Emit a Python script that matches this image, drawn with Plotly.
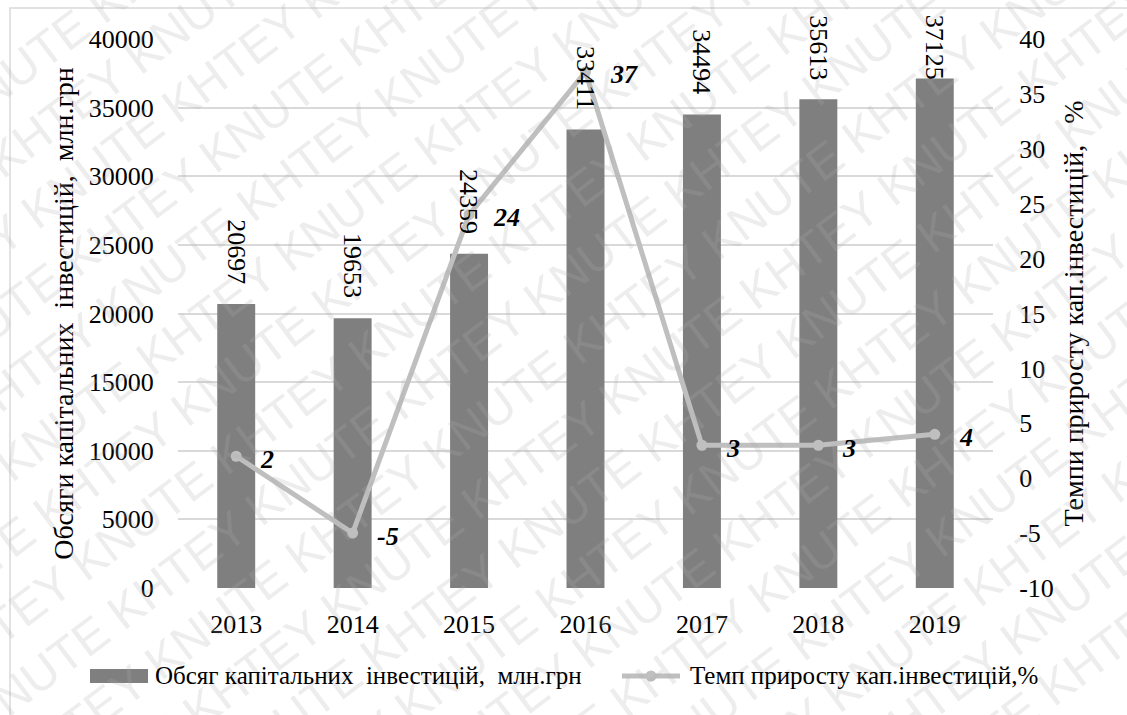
import math
import plotly.graph_objects as go

# ---- data -------------------------------------------------------------
years = ["2013", "2014", "2015", "2016", "2017", "2018", "2019"]
investment = [20697, 19653, 24359, 33411, 34494, 35613, 37125]   # млн.грн
growth = [2, -5, 24, 37, 3, 3, 4]                                # %

left_tick_vals = [0, 5000, 10000, 15000, 20000, 25000, 30000, 35000, 40000]
left_tick_text = ["0", "5000", "10000", "15000", "20000", "25000", "30000", "35000", "40000"]
right_tick_vals = [-10, -5, 0, 5, 10, 15, 20, 25, 30, 35, 40]
right_tick_text = ["-10", "-5", "0", "5", "10", "15", "20", "25", "30", "35", "40"]

bar_name = "Обсяг капітальних\u00a0\u00a0інвестицій,\u00a0\u00a0млн.грн"
line_name = "Темп приросту кап.інвестицій,%"
left_title = "Обсяги капітальних\u00a0\u00a0інвестицій,\u00a0\u00a0млн.грн"
right_title = "Темпи приросту кап.інвестицій,\u00a0\u00a0\u00a0%"

# ---- styling ----------------------------------------------------------
W, H = 1127, 715
L, R, T, B = 178, 993, 39, 588          # plot area in page pixels
BAR = "#7f7f7f"
LINE = "#bfbfbf"
GRID = "#d9d9d9"
SERIF = '"Liberation Serif", "Times New Roman", serif'
SANS = '"Liberation Sans", Arial, sans-serif'
FS = 26          # ticks and data labels
FS_TITLE = 28
FS_LEG = 25

Y_MAX = left_tick_vals[-1]
units_per_px = Y_MAX / (B - T)


def px_x(p):
    return (p - L) / (R - L)


def px_y(p):
    return (B - p) / (B - T)


fig = go.Figure()

fig.add_trace(go.Bar(
    x=years, y=investment, name=bar_name,
    marker=dict(color=BAR, line=dict(width=0)),
    showlegend=False,
))

fig.add_trace(go.Scatter(
    x=years, y=growth, name=line_name, yaxis="y2",
    mode="lines+markers",
    line=dict(color=LINE, width=5),
    marker=dict(color=LINE, size=11),
    showlegend=False,
))

annotations = []

# faint diagonal watermark rows
angle = 37
s = 62
ca, sa = math.cos(math.radians(angle)), math.sin(math.radians(angle))
for k in range(-9, 10):
    cx = W / 2 + k * s * sa
    cy = H / 2 + k * s * ca
    words = "KNUTE KHTEY " if k % 2 == 0 else "KHTEY KNUTE "
    annotations.append(dict(
        text=(words * 7).strip(), xref="paper", yref="paper",
        x=px_x(cx), y=px_y(cy), xanchor="center", yanchor="middle",
        textangle=-angle, showarrow=False,
        font=dict(family=SANS, size=48, color="rgba(175,175,175,0.22)"),
    ))

# vertical value labels above the bars (category index positions)
gap_units = 18 * units_per_px
label_len_units = 65 * units_per_px
top_limit_units = Y_MAX + (T - 17) * units_per_px
for i, v in enumerate(investment):
    base = min(v + gap_units, top_limit_units - label_len_units)
    annotations.append(dict(
        text=str(v), x=i, y=base, xref="x", yref="y",
        xanchor="center", yanchor="bottom", textangle=90,
        showarrow=False, font=dict(family=SERIF, size=FS, color="black"),
    ))

# growth-rate labels to the right of the markers
for i, g in enumerate(growth):
    annotations.append(dict(
        text=f"<b><i>{g}</i></b>", x=i, y=g, xref="x", yref="y2",
        xanchor="left", yanchor="middle", xshift=22, yshift=-3,
        showarrow=False, font=dict(family=SERIF, size=FS, color="black"),
    ))

# legend texts
leg_y = 676
annotations.append(dict(
    text=bar_name, xref="paper", yref="paper", x=px_x(153), y=px_y(leg_y),
    xanchor="left", yanchor="middle", showarrow=False,
    font=dict(family=SERIF, size=FS_LEG, color="black"),
))
annotations.append(dict(
    text=line_name, xref="paper", yref="paper", x=px_x(688), y=px_y(leg_y),
    xanchor="left", yanchor="middle", showarrow=False,
    font=dict(family=SERIF, size=FS_LEG, color="black"),
))

shapes = [
    # chart-area border
    dict(type="rect", xref="paper", yref="paper",
         x0=px_x(10), y0=px_y(8), x1=px_x(W + 20), y1=px_y(H + 20),
         line=dict(color=GRID, width=1.5), fillcolor="rgba(0,0,0,0)", layer="below"),
    # legend swatches
    dict(type="rect", xref="paper", yref="paper",
         x0=px_x(90), x1=px_x(148), y0=px_y(683), y1=px_y(669),
         line=dict(width=0), fillcolor=BAR),
    dict(type="line", xref="paper", yref="paper",
         x0=px_x(622), x1=px_x(680), y0=px_y(leg_y), y1=px_y(leg_y),
         line=dict(color=LINE, width=5)),
    dict(type="circle", xref="paper", yref="paper",
         x0=px_x(645.5), x1=px_x(656.5), y0=px_y(leg_y + 5.5), y1=px_y(leg_y - 5.5),
         line=dict(width=0), fillcolor=LINE),
]

fig.update_layout(
    width=W, height=H,
    margin=dict(l=L, r=W - R, t=T, b=H - B, autoexpand=False),
    paper_bgcolor="white", plot_bgcolor="white",
    bargap=0.674,
    font=dict(family=SERIF, size=FS, color="black"),
    xaxis=dict(
        type="category", categoryorder="array", categoryarray=years,
        range=[-0.5, len(years) - 0.5], autorange=False,
        showgrid=False, zeroline=False, showline=False,
        ticks="outside", ticklen=13, tickcolor="rgba(0,0,0,0)",
        tickfont=dict(family=SERIF, size=FS),
    ),
    yaxis=dict(
        range=[0, Y_MAX], autorange=False,
        tickvals=left_tick_vals, ticktext=left_tick_text,
        showgrid=True, gridcolor=GRID, gridwidth=1.5, zeroline=False,
        showline=False, ticks="outside", ticklen=18, tickcolor="rgba(0,0,0,0)",
        tickfont=dict(family=SERIF, size=FS),
        title=dict(text=left_title, font=dict(family=SERIF, size=FS_TITLE), standoff=6),
    ),
    yaxis2=dict(
        overlaying="y", side="right", range=[-10, 40], autorange=False,
        tickvals=right_tick_vals, ticktext=right_tick_text,
        showgrid=False, zeroline=False, showline=False,
        ticks="outside", ticklen=20, tickcolor="rgba(0,0,0,0)",
        tickfont=dict(family=SERIF, size=FS),
        title=dict(text=right_title, font=dict(family=SERIF, size=FS_TITLE), standoff=10),
    ),
    annotations=annotations,
    shapes=shapes,
)

fig.write_html("out.html")
